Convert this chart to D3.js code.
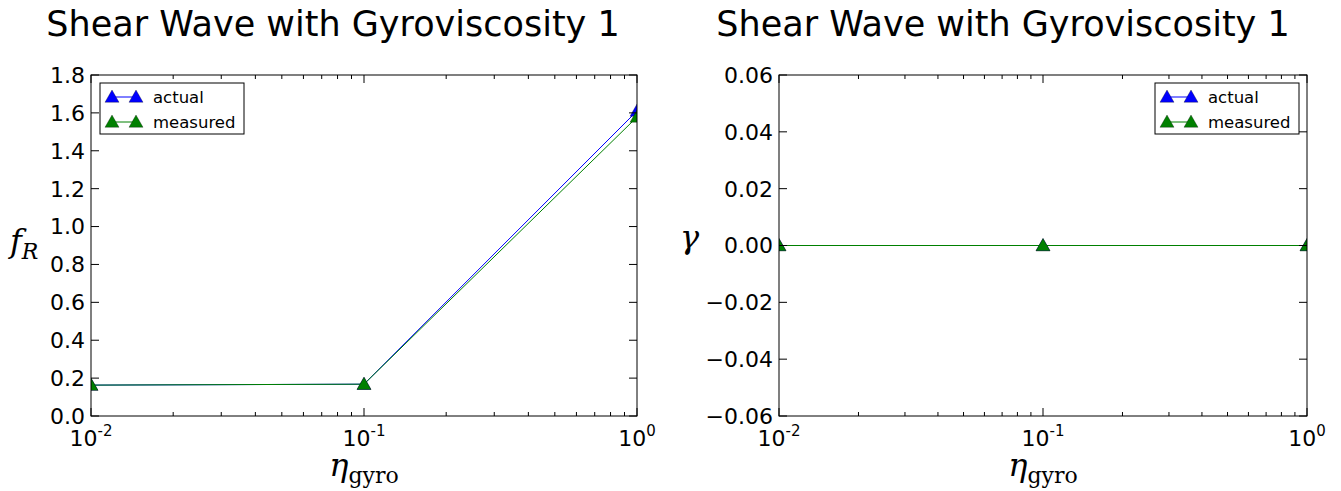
<!DOCTYPE html>
<html>
<head>
<meta charset="utf-8">
<style>
  body { margin: 0; background: #fff; }
  text { font-family: "DejaVu Sans", sans-serif; }
</style>
</head>
<body>
<svg width="1341" height="491"></svg>
<script src="https://d3js.org/d3.v7.min.js"></script>
<script>

var etaGyro = [0.01, 0.1, 1];
var frActual = [0.163, 0.168, 1.61];
var frMeasured = [0.163, 0.168, 1.578];
var gammaActual = [0, 0, 0];
var gammaMeasured = [0, 0, 0];
var frTicks = [0, 0.2, 0.4, 0.6, 0.8, 1.0, 1.2, 1.4, 1.6, 1.8];
var gammaTicks = [-0.06, -0.04, -0.02, 0, 0.02, 0.04, 0.06];
var xTicks = [0.01, 0.1, 1];
var xTickExp = ["-2", "-1", "0"];
var seriesNames = ["actual", "measured"];
var seriesColors = ["#0000ff", "#008000"];

var svg = d3.select("svg");

var panels = [
  {left: 91, right: 637, top: 75, bottom: 416, id: "a", titleX: 333,
   yDomain: [0, 1.8], yTicks: frTicks, fmt: d3.format(".1f"),
   series: [frActual, frMeasured], legend: "left"},
  {left: 779, right: 1307, top: 75, bottom: 416, id: "b", titleX: 1003,
   yDomain: [-0.06, 0.06], yTicks: gammaTicks, fmt: function(d) { return d3.format(".2f")(d).replace("\u2212", "-").replace("-", "\u2212"); },
   series: [gammaActual, gammaMeasured], legend: "right"}
];

function tri(cx, cy, s) {
  return "M" + cx + "," + (cy - s) + "L" + (cx + s) + "," + (cy + s * 0.75) + "L" + (cx - s) + "," + (cy + s * 0.75) + "Z";
}

panels.forEach(function(p, pi) {
  var x = d3.scaleLog().domain([0.01, 1]).range([p.left, p.right]);
  var y = d3.scaleLinear().domain(p.yDomain).range([p.bottom, p.top]);
  var g = svg.append("g");

  svg.append("clipPath").attr("id", "clip" + p.id)
    .append("rect").attr("x", p.left).attr("y", p.top)
    .attr("width", p.right - p.left).attr("height", p.bottom - p.top);

  // title
  g.append("text")
      .attr("x", p.titleX)
      .attr("y", 36)
      .attr("text-anchor", "middle")
      .attr("font-size", "35px")
      .text("Shear Wave with Gyroviscosity 1");

  // data lines + markers
  var plot = g.append("g").attr("clip-path", "url(#clip" + p.id + ")");
  var line = d3.line()
      .x(function(d, i) { return x(etaGyro[i]); })
      .y(function(d) { return y(d); });

  p.series.forEach(function(vals, si) {
    plot.append("path")
        .datum(vals)
        .attr("fill", "none")
        .attr("stroke", seriesColors[si])
        .attr("stroke-width", 1)
        .attr("d", line);
    plot.selectAll(".m" + si)
      .data(vals)
      .enter().append("path")
        .attr("d", function(d, i) { return tri(x(etaGyro[i]), y(d), 7); })
        .attr("fill", seriesColors[si])
        .attr("stroke", "#000")
        .attr("stroke-width", 0.3);
  });

  // frame
  g.append("rect")
      .attr("x", p.left).attr("y", p.top)
      .attr("width", p.right - p.left).attr("height", p.bottom - p.top)
      .attr("fill", "none").attr("stroke", "#000").attr("stroke-width", 1);

  // x ticks: major & minor, inside, top and bottom
  var minor = [];
  [0.01, 0.1].forEach(function(b) {
    for (var k = 2; k <= 9; k++) minor.push(b * k);
  });
  xTicks.forEach(function(t) {
    g.append("line").attr("x1", x(t)).attr("x2", x(t)).attr("y1", p.bottom).attr("y2", p.bottom - 8).attr("stroke", "#000");
    g.append("line").attr("x1", x(t)).attr("x2", x(t)).attr("y1", p.top).attr("y2", p.top + 8).attr("stroke", "#000");
  });
  minor.forEach(function(t) {
    g.append("line").attr("x1", x(t)).attr("x2", x(t)).attr("y1", p.bottom).attr("y2", p.bottom - 4).attr("stroke", "#000");
    g.append("line").attr("x1", x(t)).attr("x2", x(t)).attr("y1", p.top).attr("y2", p.top + 4).attr("stroke", "#000");
  });
  xTicks.forEach(function(t, i) {
    var tx = g.append("text")
        .attr("x", x(t))
        .attr("y", p.bottom + 30)
        .attr("text-anchor", "middle")
        .attr("font-size", "22px");
    tx.append("tspan").text("10");
    tx.append("tspan").attr("font-size", "15px").attr("dy", -10).text(xTickExp[i]);
  });

  // y ticks
  p.yTicks.forEach(function(t) {
    g.append("line").attr("x1", p.left).attr("x2", p.left + 8).attr("y1", y(t)).attr("y2", y(t)).attr("stroke", "#000");
    g.append("line").attr("x1", p.right).attr("x2", p.right - 8).attr("y1", y(t)).attr("y2", y(t)).attr("stroke", "#000");
    g.append("text")
        .attr("x", p.left - 6)
        .attr("y", y(t))
        .attr("dy", "0.36em")
        .attr("text-anchor", "end")
        .attr("font-size", "22px")
        .text(p.fmt(t));
  });

  // x label
  var xl = g.append("text")
      .attr("x", (p.left + p.right) / 2)
      .attr("y", p.bottom + 60)
      .attr("text-anchor", "middle")
      .style("font-family", "'DejaVu Serif', serif");
  xl.append("tspan").attr("font-size", "32px").attr("font-style", "italic").text("\u03B7");
  xl.append("tspan").attr("font-size", "22px").attr("dy", 7).text("gyro");

  // y label
  if (pi === 0) {
    var yl = g.append("text")
        .attr("x", 10).attr("y", 252)
        .style("font-family", "'DejaVu Serif', serif")
        .attr("font-style", "italic");
    yl.append("tspan").attr("font-size", "32px").text("f");
    yl.append("tspan").attr("font-size", "22px").attr("dy", 7).text("R");
  } else {
    g.append("text")
        .attr("x", 680).attr("y", 248)
        .style("font-family", "'DejaVu Serif', serif")
        .attr("font-style", "italic")
        .attr("font-size", "32px")
        .text("\u03B3");
  }

  // legend
  var lw = 144, lh = 51;
  var lx = p.legend === "left" ? p.left + 9 : p.right - 8 - lw;
  var ly = p.top + 8;
  var lg = g.append("g");
  lg.append("rect").attr("x", lx).attr("y", ly).attr("width", lw).attr("height", lh)
      .attr("fill", "#fff").attr("stroke", "#000").attr("stroke-width", 1);
  seriesNames.forEach(function(name, si) {
    var yy = ly + 14 + si * 25;
    lg.append("line").attr("x1", lx + 12).attr("x2", lx + 36).attr("y1", yy).attr("y2", yy)
        .attr("stroke", seriesColors[si]).attr("stroke-width", 1);
    [lx + 12, lx + 36].forEach(function(cx) {
      lg.append("path").attr("d", tri(cx, yy, 7)).attr("fill", seriesColors[si])
          .attr("stroke", "#000").attr("stroke-width", 0.3);
    });
    lg.append("text").attr("x", lx + 53).attr("y", yy).attr("dy", "0.36em")
        .attr("font-size", "16.5px").text(name);
  });
});

</script>
</body>
</html>
